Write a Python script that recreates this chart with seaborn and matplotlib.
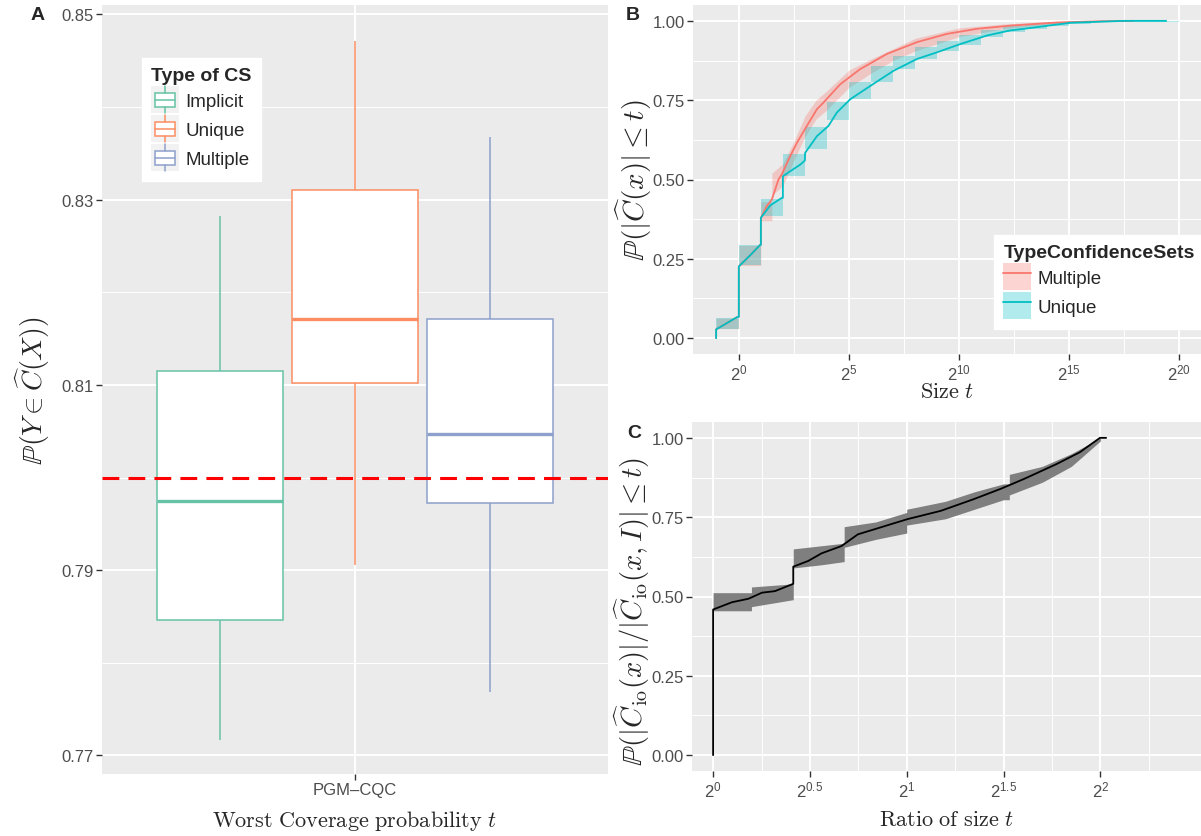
import numpy as np
import pandas as pd
import matplotlib
matplotlib.use("Agg")
import matplotlib.pyplot as plt
import seaborn as sns
from matplotlib.legend_handler import HandlerBase
from matplotlib.patches import Rectangle, Patch
from matplotlib.lines import Line2D
from matplotlib.ticker import FixedLocator, NullFormatter

# ---------------- data ----------------
method = "PGM\u2013CQC"
cs_types = ["Implicit", "Unique", "Multiple"]
cs_colors = ["#66C2A5", "#FC8D62", "#8DA0CB"]
# five-number summaries (lower whisker, Q1, median, Q3, upper whisker)
implicit_cov = [0.7717, 0.7846, 0.7975, 0.8115, 0.8282]
unique_cov = [0.7906, 0.8102, 0.8171, 0.8310, 0.8471]
multiple_cov = [0.7769, 0.7973, 0.8047, 0.8171, 0.8368]
target_level = 0.80

# Panel B: ECDF of CS size (log2 of size) with confidence bands
set_types = ["Multiple", "Unique"]
set_colors = ["#F8766D", "#00BFC4"]
unique_log2 = [-1.03, -1.03, -0.06, 0.0, 0.0, 0.5, 0.97, 1.0, 1.0, 1.42, 1.95, 2.0, 2.0,
               2.33, 2.79, 3.0, 3.01, 3.55, 4.07, 4.45, 5.06, 5.97, 7.03, 8.09, 9.0,
               10.06, 11.27, 12.33, 12.94, 15.06, 17.5, 19.4]
unique_ecdf = [0.0, 0.0275, 0.067, 0.067, 0.226, 0.26, 0.294, 0.294, 0.379, 0.418, 0.442,
               0.442, 0.51, 0.526, 0.547, 0.56, 0.584, 0.637, 0.669, 0.711, 0.753, 0.795,
               0.843, 0.880, 0.901, 0.927, 0.954, 0.970, 0.975, 0.994, 1.0, 1.0]
unique_band_log2 = [-1.03, 0, 1, 2, 3, 4, 5, 6, 7, 8, 9, 10, 11, 12, 13, 14, 15, 16, 20]
unique_band_lo = [0.03, 0.229, 0.384, 0.51, 0.595, 0.688, 0.753, 0.806, 0.848, 0.88, 0.906,
                  0.925, 0.95, 0.965, 0.975, 0.985, 0.99, 0.995]
unique_band_hi = [0.063, 0.292, 0.437, 0.579, 0.664, 0.743, 0.806, 0.859, 0.89, 0.917, 0.938,
                  0.955, 0.972, 0.984, 0.99, 0.996, 1.0, 1.0]

multiple_log2 = [-1.03, -1.03, -0.06, 0.0, 0.0, 0.5, 0.97, 1.0, 1.0, 1.27, 1.5, 1.8, 1.95,
                 2.26, 2.64, 3.09, 3.55, 3.85, 4.6, 5.51, 6.73, 8.09, 9.45, 10.82, 12.33,
                 14.5, 16.5, 17.9]
multiple_ecdf = [0.0, 0.0275, 0.067, 0.067, 0.226, 0.26, 0.294, 0.294, 0.379, 0.416, 0.437,
                 0.5, 0.516, 0.563, 0.616, 0.669, 0.722, 0.743, 0.80, 0.848, 0.896, 0.933,
                 0.959, 0.975, 0.985, 0.995, 0.999, 1.0]
multiple_band_log2 = [-1.03, 0, 0, 1, 1, 1.5, 1.5, 2, 2.5, 3, 3.5, 4, 5, 6, 7, 8, 10, 12,
                      14, 16, 18]
multiple_band_lo = [0.03, 0.03, 0.229, 0.229, 0.37, 0.37, 0.45, 0.48, 0.56, 0.635, 0.69,
                    0.72, 0.79, 0.835, 0.875, 0.905, 0.95, 0.975, 0.99, 0.997, 1.0]
multiple_band_hi = [0.063, 0.063, 0.292, 0.292, 0.43, 0.43, 0.52, 0.55, 0.62, 0.70, 0.75,
                    0.78, 0.845, 0.88, 0.912, 0.945, 0.978, 0.99, 0.998, 1.0, 1.0]

# Panel C: ECDF of size ratio (log2 of ratio) with band
ratio_log2 = [0.0, 0.0, 0.098, 0.183, 0.252, 0.32, 0.414, 0.414, 0.491, 0.56, 0.663, 0.748,
              0.834, 0.919, 1.005, 1.176, 1.347, 1.484, 1.604, 1.776, 1.895, 1.998, 2.03]
ratio_ecdf = [0.0, 0.459, 0.482, 0.493, 0.512, 0.517, 0.54, 0.594, 0.612, 0.636, 0.659,
              0.696, 0.712, 0.728, 0.744, 0.77, 0.807, 0.839, 0.87, 0.918, 0.955, 1.0, 1.0]
ratio_band_log2 = [0.0, 0.198, 0.198, 0.414, 0.414, 0.56, 0.677, 0.677, 0.84, 1.0, 1.0,
                   1.2, 1.35, 1.5, 1.53, 1.53, 1.7, 1.85, 2.0]
ratio_band_lo = [0.455, 0.455, 0.468, 0.49, 0.59, 0.60, 0.61, 0.655, 0.68, 0.70, 0.725,
                 0.745, 0.775, 0.805, 0.805, 0.82, 0.86, 0.91, 0.99]
ratio_band_hi = [0.512, 0.512, 0.53, 0.54, 0.65, 0.66, 0.668, 0.72, 0.735, 0.765, 0.775,
                 0.80, 0.83, 0.855, 0.855, 0.885, 0.91, 0.95, 1.0]

size_ticks_log2 = [0, 5, 10, 15, 20]
size_minor_log2 = [-2.5, 2.5, 7.5, 12.5, 17.5]
ratio_ticks_log2 = [0, 0.5, 1, 1.5, 2]
ratio_tick_labels = ["0", "0.5", "1", "1.5", "2"]
ratio_minor_log2 = [0.25, 0.75, 1.25, 1.75, 2.25]
prob_ticks = [0.0, 0.25, 0.5, 0.75, 1.0]
prob_minor = [0.125, 0.375, 0.625, 0.875]
cov_ticks = [0.77, 0.79, 0.81, 0.83, 0.85]
cov_minor = [0.78, 0.80, 0.82, 0.84]

# ---------------- style ----------------
sns.set_theme(style="darkgrid", rc={"axes.facecolor": "#EBEBEB", "grid.color": "white"})
plt.rcParams["font.family"] = ["Liberation Sans", "DejaVu Sans"]
plt.rcParams["mathtext.fontset"] = "cm"
plt.rcParams["mathtext.rm"] = "Liberation Sans"
plt.rcParams["mathtext.it"] = "Liberation Sans:italic"
plt.rcParams["mathtext.bf"] = "Liberation Sans:bold"

W, H = 1201, 837
fig = plt.figure(figsize=(W / 100, H / 100), dpi=100)


def px_axes(left, top, right, bottom):
    return fig.add_axes([left / W, 1 - bottom / H, (right - left) / W, (bottom - top) / H])


def style_axes(ax):
    ax.set_axisbelow(True)
    for s in ax.spines.values():
        s.set_visible(False)
    ax.grid(which="major", color="white", lw=1.4)
    ax.grid(which="minor", color="white", lw=0.7)
    ax.tick_params(which="major", bottom=True, left=True, length=4, width=1,
                   color="#333333", labelcolor="#4D4D4D", labelsize=12, pad=2)
    ax.tick_params(which="minor", length=0)


def place_labels(ax, xlab, ylab, xpos, ypos, xsize=16, ysize=20, ycenter=0.5):
    ax.set_xlabel(xlab, fontsize=xsize)
    ax.set_ylabel(ylab, fontsize=ysize)
    ax.xaxis.label.set_va("center")
    ax.yaxis.label.set_va("center")
    ax.xaxis.set_label_coords(0.5, xpos)
    ax.yaxis.set_label_coords(ypos, ycenter)


TICKFONT = dict(math_fontfamily="custom")
LEG_KW = dict(loc="upper left", borderaxespad=0, fontsize=13.5,
              title_fontproperties={"weight": "bold", "size": 14},
              handlelength=1.45, handleheight=1.85, labelspacing=0.1, handletextpad=0.35,
              borderpad=0.5, frameon=True, fancybox=False, framealpha=1, edgecolor="white",
              facecolor="white", alignment="left")

# ---------------- Panel A ----------------
axA = px_axes(102, 6, 608, 775)
rows = []
for t, vals in zip(cs_types, [implicit_cov, unique_cov, multiple_cov]):
    for v in vals:
        rows.append({"method": method, "type": t, "coverage": v})
dfA = pd.DataFrame(rows)
sns.boxplot(data=dfA, x="method", y="coverage", hue="type", hue_order=cs_types,
            palette=cs_colors, saturation=1, width=0.80, gap=0.067, linewidth=1.1,
            showcaps=False, medianprops={"linewidth": 2.4}, legend=False, ax=axA)
# recolor: white boxes, coloured outlines
centers = []
for p in axA.patches:
    ext = p.get_path().get_extents()
    centers.append((ext.x0 + ext.x1) / 2)
order = np.argsort(centers)
sorted_centers = np.array(centers)[order]
for rank, idx in enumerate(order):
    p = axA.patches[idx]
    p.set_facecolor("white")
    p.set_edgecolor(cs_colors[rank])
    p.set_linewidth(1.1)
for ln in axA.lines:
    xd = np.asarray(ln.get_xdata(), dtype=float)
    if xd.size == 0:
        continue
    k = int(np.argmin(np.abs(sorted_centers - xd.mean())))
    ln.set_color(cs_colors[k])

axA.axhline(target_level, color="#FF0000", lw=2.2, ls=(0, (5.5, 3)), zorder=6)
axA.set_xlim(-0.5, 0.5)
axA.set_ylim(0.768, 0.851)
style_axes(axA)
axA.yaxis.set_major_locator(FixedLocator(cov_ticks))
axA.set_yticklabels([f"{v:.2f}" for v in cov_ticks])
axA.yaxis.set_minor_locator(FixedLocator(cov_minor))
place_labels(axA, r"$\mathrm{Worst\ Coverage\ probability}\ t$",
             r"$\mathbb{P}(Y \in \widehat{C}(X))$", (775 - 821) / 769, (33 - 102) / 506)


class BoxKeyHandler(HandlerBase):
    def create_artists(self, legend, orig_handle, xdescent, ydescent, width, height,
                       fontsize, trans):
        c = orig_handle.get_edgecolor()
        x0, y0 = -xdescent, -ydescent
        bg = Rectangle((x0, y0), width, height, facecolor="#F2F2F2", edgecolor="none",
                       transform=trans)
        box = Rectangle((x0 + width * 0.12, y0 + height * 0.25), width * 0.76, height * 0.5,
                        facecolor="white", edgecolor=c, lw=1.1, transform=trans)
        cx = x0 + width / 2
        med = Line2D([x0 + width * 0.12, x0 + width * 0.88], [y0 + height / 2] * 2,
                     color=c, lw=1.1, transform=trans)
        w1 = Line2D([cx, cx], [y0, y0 + height * 0.25], color=c, lw=1.1, transform=trans)
        w2 = Line2D([cx, cx], [y0 + height * 0.75, y0 + height], color=c, lw=1.1,
                    transform=trans)
        return [bg, box, med, w1, w2]


handlesA = [Patch(facecolor="white", edgecolor=c) for c in cs_colors]
axA.legend(handlesA, cs_types, title="Type of CS",
           bbox_to_anchor=((142 - 102) / 506, (775 - 59) / 769),
           handler_map={Patch: BoxKeyHandler()}, **LEG_KW)

# ---------------- Panel B ----------------
axB = px_axes(693, 6, 1201, 355)
axB.set_xscale("log", base=2)
axB.fill_between(2.0 ** np.array(multiple_band_log2), multiple_band_lo, multiple_band_hi,
                 color=set_colors[0], alpha=0.3, lw=0)
axB.fill_between(2.0 ** np.array(unique_band_log2), unique_band_lo + [unique_band_lo[-1]],
                 unique_band_hi + [unique_band_hi[-1]], step="post",
                 color=set_colors[1], alpha=0.3, lw=0)
dfB = pd.concat([
    pd.DataFrame({"size": 2.0 ** np.array(multiple_log2), "prob": multiple_ecdf,
                  "type": "Multiple"}),
    pd.DataFrame({"size": 2.0 ** np.array(unique_log2), "prob": unique_ecdf,
                  "type": "Unique"}),
], ignore_index=True)
sns.lineplot(data=dfB, x="size", y="prob", hue="type", hue_order=set_types,
             palette=set_colors, estimator=None, sort=False, lw=1.3, legend=False, ax=axB)
axB.set_xlim(2.0 ** -2.08, 2.0 ** 20.98)
axB.set_ylim(-0.05, 1.05)
style_axes(axB)
axB.xaxis.set_major_locator(FixedLocator([2.0 ** e for e in size_ticks_log2]))
axB.set_xticklabels([f"$2^{{{e}}}$" for e in size_ticks_log2], **TICKFONT)
axB.xaxis.set_minor_locator(FixedLocator([2.0 ** e for e in size_minor_log2]))
axB.xaxis.set_minor_formatter(NullFormatter())
axB.yaxis.set_major_locator(FixedLocator(prob_ticks))
axB.set_yticklabels([f"{v:.2f}" for v in prob_ticks])
axB.yaxis.set_minor_locator(FixedLocator(prob_minor))
place_labels(axB, r"$\mathrm{Size}\ t$", r"$\mathbb{P}(|\widehat{C}(x)| \leq t)$",
             (355 - 393) / 349, (634 - 693) / 508, ysize=21)
handlesB = [(Patch(facecolor=c, alpha=0.3, edgecolor="none"), Line2D([], [], color=c, lw=1.3))
            for c in set_colors]
axB.legend(handlesB, set_types, title="TypeConfidenceSets",
           bbox_to_anchor=((994 - 693) / 508, (355 - 236) / 349), **LEG_KW)

# ---------------- Panel C ----------------
axC = px_axes(692, 423, 1201, 772)
axC.set_xscale("log", base=2)
axC.fill_between(2.0 ** np.array(ratio_band_log2), ratio_band_lo, ratio_band_hi,
                 color="#7F7F7F", lw=0)
sns.lineplot(x=2.0 ** np.array(ratio_log2), y=ratio_ecdf, color="black", estimator=None,
             sort=False, lw=1.3, ax=axC)
axC.set_xlim(2.0 ** -0.109, 2.0 ** 2.52)
axC.set_ylim(-0.05, 1.05)
style_axes(axC)
axC.xaxis.set_major_locator(FixedLocator([2.0 ** e for e in ratio_ticks_log2]))
axC.set_xticklabels([f"$2^{{{l}}}$" for l in ratio_tick_labels], **TICKFONT)
axC.xaxis.set_minor_locator(FixedLocator([2.0 ** e for e in ratio_minor_log2]))
axC.xaxis.set_minor_formatter(NullFormatter())
axC.yaxis.set_major_locator(FixedLocator(prob_ticks))
axC.set_yticklabels([f"{v:.2f}" for v in prob_ticks])
axC.yaxis.set_minor_locator(FixedLocator(prob_minor))
place_labels(axC, r"$\mathrm{Ratio\ of\ size}\ t$",
             r"$\mathbb{P}(|\widehat{C}_{\mathrm{io}}(x)|/|\widehat{C}_{\mathrm{io}}(x,I)| \leq t)$",
             (772 - 821) / 349, (632 - 692) / 509, ysize=20.5,
             ycenter=(772 - 612) / 349)

# panel tags
for lab, x, y in [("A", 38, 16), ("B", 633, 16), ("C", 634, 434)]:
    fig.text(x / W, 1 - y / H, lab, fontsize=14, fontweight="bold", ha="center", va="center")

fig.savefig("out.png", dpi=100)
